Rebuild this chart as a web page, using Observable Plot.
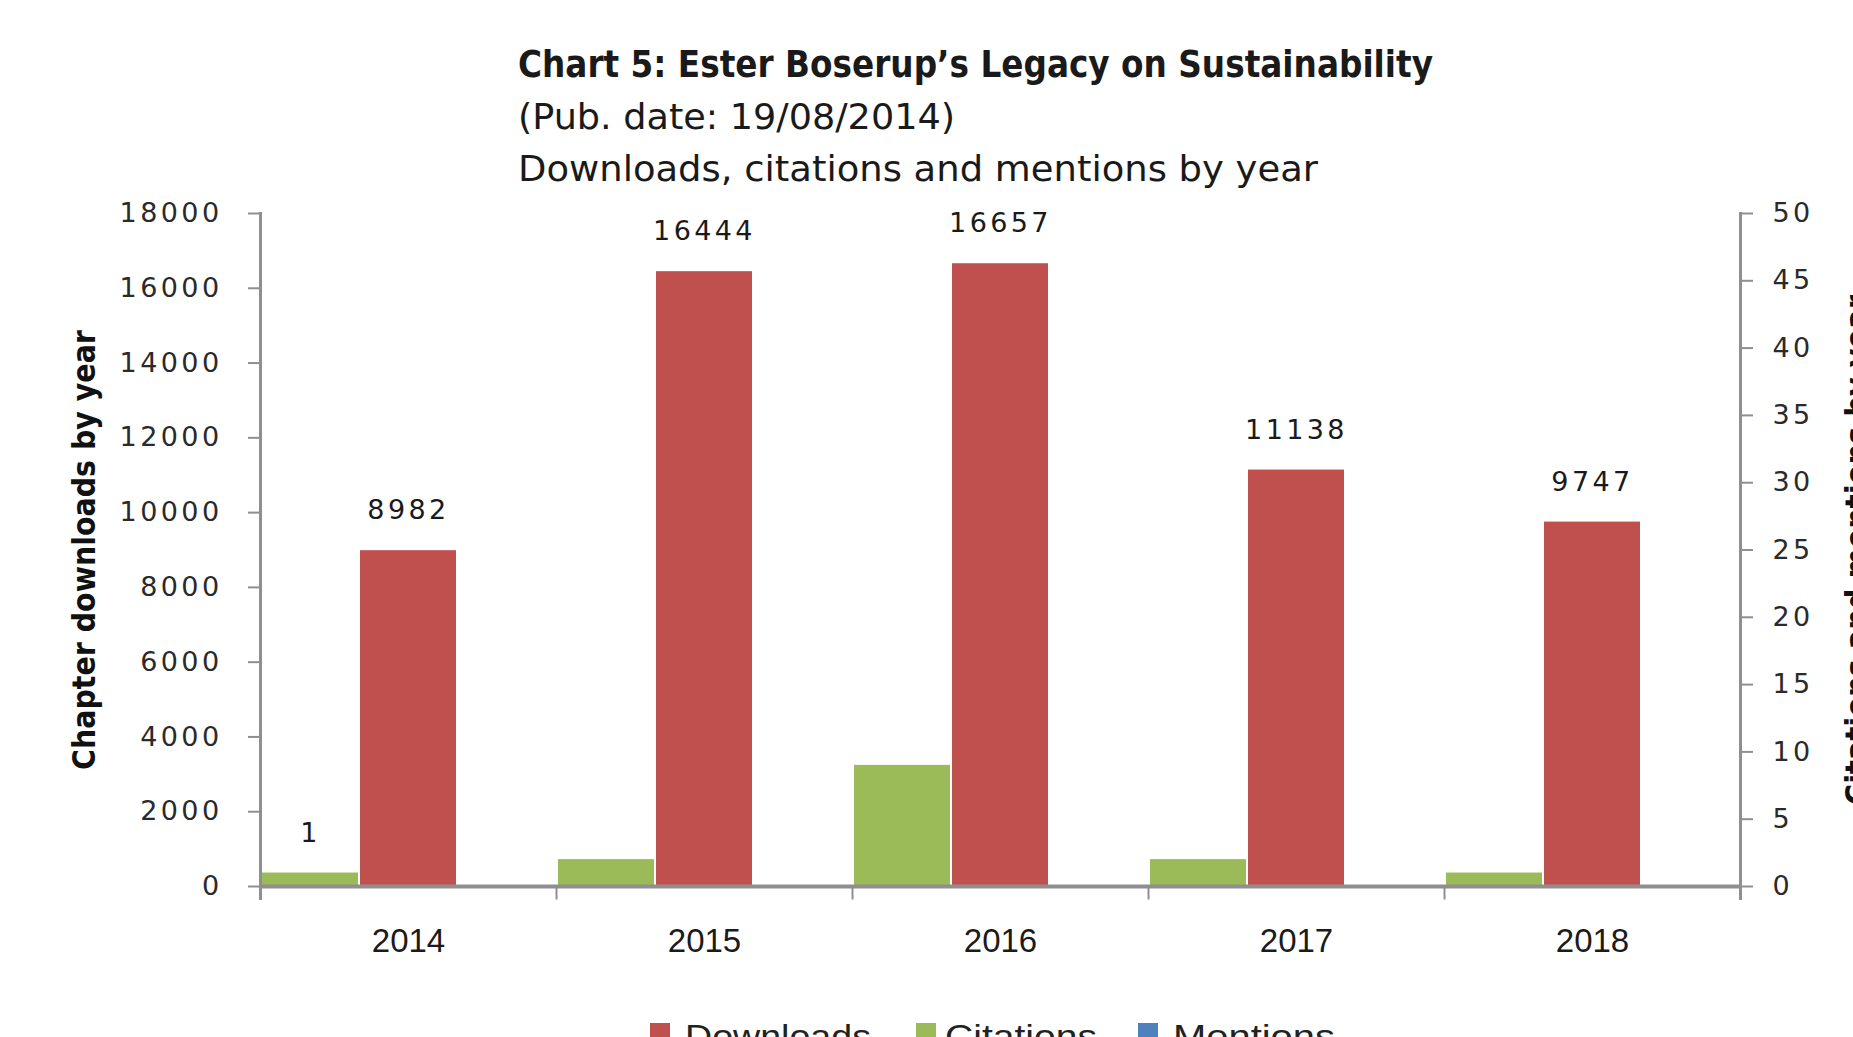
<!DOCTYPE html>
<html>
<head>
<meta charset="utf-8">
<script src="https://cdn.jsdelivr.net/npm/d3@7"></script>
<script src="https://cdn.jsdelivr.net/npm/@observablehq/plot@0.6"></script>
<style>
  html, body { margin: 0; padding: 0; background: #fff; }
  body { width: 1853px; height: 1037px; overflow: hidden; position: relative; }
  .hl { position: absolute; left: 518px; white-space: nowrap; color: #1a1a1a; transform-origin: 0 50%;
        font-family: "Liberation Sans Narrow", "DejaVu Sans Condensed", "Liberation Sans", sans-serif; line-height: 1; }
  #chart { position: absolute; left: 0; top: 190px; }
  .lg { position: absolute; top: 1019px; white-space: nowrap; font-family: "Liberation Sans", sans-serif;
        font-size: 34px; line-height: 1; color: #222; transform-origin: 0 0; }
  .sw { position: absolute; top: 1023px; width: 20px; height: 20px; }
</style>
</head>
<body>
<div id="t1" class="hl" style="top:45px;font-size:38px;font-weight:bold;">Chart 5: Ester Boserup’s Legacy on Sustainability</div>
<div id="t2" class="hl" style="top:99px;font-size:36px;">(Pub. date: 19/08/2014)</div>
<div id="t3" class="hl" style="top:151px;font-size:36px;">Downloads, citations and mentions by year</div>
<div id="chart"></div>
<div id="legend"></div>
<script>
// ---- data ----
const years = ["2014", "2015", "2016", "2017", "2018"];
const downloads = [8982, 16444, 16657, 11138, 9747];
const citations = [1, 2, 9, 2, 1];
const mentions = [0, 0, 0, 0, 0];
const seriesSlots = ["Citations", "Downloads", "Mentions"];
const legendOrder = ["Downloads", "Citations", "Mentions"];
const seriesColors = ["#9BBB59", "#C0504D", "#4F81BD"];
const leftTicks = [0, 2000, 4000, 6000, 8000, 10000, 12000, 14000, 16000, 18000];
const rightTicks = [0, 5, 10, 15, 20, 25, 30, 35, 40, 45, 50];
const leftMax = 18000, rightMax = 50;
const leftTitle = "Chapter downloads by year";
const rightTitle = "Citations and mentions by year";
const citationLabelYears = ["2014"];

// secondary axis mapped onto the primary scale
const k = leftMax / rightMax;
const rows = years.flatMap((yr, i) => [
  {year: yr, series: "Citations", value: citations[i], pos: citations[i] * k},
  {year: yr, series: "Downloads", value: downloads[i], pos: downloads[i]},
  {year: yr, series: "Mentions", value: mentions[i], pos: mentions[i] * k}
]);
const labelRows = rows.filter(d => d.series === "Downloads" ||
  (d.series === "Citations" && citationLabelYears.includes(d.year)));

const axisGray = "#8f8f8f";
const tickFont = "DejaVu Sans";
const titleFont = "Liberation Sans Narrow, DejaVu Sans Condensed, Liberation Sans";

const plot = Plot.plot({
  width: 1853,
  height: 820,
  marginTop: 23,
  marginBottom: 124,
  marginLeft: 258,
  marginRight: 112,
  style: {background: "#fff", overflow: "visible"},
  fx: {domain: years, padding: 0, axis: null},
  x: {domain: seriesSlots, padding: 0, axis: null},
  y: {domain: [0, leftMax], axis: null},
  color: {domain: seriesSlots, range: seriesColors},
  marks: [
    Plot.barY(rows, {fx: "year", x: "series", y: "pos", fill: "series", insetLeft: 1, insetRight: 1}),
    Plot.ruleY([0], {stroke: axisGray, strokeWidth: 4}),
    Plot.frame({anchor: "left", insetTop: 673, insetBottom: -12, stroke: axisGray, strokeWidth: 2}),
    Plot.frame({anchor: "left", facet: "super", insetBottom: -12, stroke: axisGray, strokeWidth: 3}),
    Plot.frame({anchor: "right", facet: "super", insetBottom: -12, stroke: axisGray, strokeWidth: 3}),
    Plot.axisY({anchor: "left", ticks: leftTicks, tickFormat: d => String(d), tickSize: 12, tickPadding: 26,
      fontSize: 27, fontFamily: tickFont, stroke: axisGray, strokeWidth: 2, fill: "#2a2a2a", label: null}),
    Plot.axisY({anchor: "right", ticks: rightTicks.map(v => v * k), tickFormat: d => String(Math.round(d / k)),
      tickSize: 12, tickPadding: 20, fontSize: 27, fontFamily: tickFont, stroke: axisGray, strokeWidth: 2,
      fill: "#2a2a2a", label: null}),
    Plot.axisFx({anchor: "bottom", tickSize: 0, tickPadding: 42, fontSize: 33, fontFamily: "Liberation Sans",
      fill: "#1a1a1a", label: null}),
    Plot.text(labelRows, {fx: "year", x: "series", y: "pos", text: d => String(d.value), dy: -40,
      fontSize: 27, fontFamily: tickFont, fill: "#1a1a1a"}),
    Plot.text([leftTitle], {facet: "super", frameAnchor: "left", textAnchor: "middle", rotate: -90, dx: -176,
      fontSize: 29, fontWeight: "bold", fontFamily: titleFont, fill: "#111"}),
    Plot.text([rightTitle], {facet: "super", frameAnchor: "right", textAnchor: "middle", rotate: -90, dx: 117,
      fontSize: 29, fontWeight: "bold", fontFamily: titleFont, fill: "#111"})
  ]
});
document.getElementById("chart").appendChild(plot);

// letter spacing on the Excel-like numeric labels
d3.select(plot).selectAll('g[aria-label="y-axis tick label"] text').style("letter-spacing", "3.4px");
d3.select(plot).selectAll('g[aria-label="text"] text').filter(function () { return /^\d+$/.test(this.textContent); })
  .style("letter-spacing", "3.4px");

// size the axis titles so their length matches the reference
d3.select(plot).selectAll('g[aria-label="text"] text').filter(function () {
  return this.textContent === leftTitle || this.textContent === rightTitle;
}).each(function () {
  const target = this.textContent === leftTitle ? 440 : 510;
  const len = this.getComputedTextLength();
  if (len > 0) this.setAttribute("font-size", (29 * target / len).toFixed(2));
});

// legend
const legend = document.getElementById("legend");
const legendPos = {Downloads: [650, 685, 186], Citations: [916, 945, 152], Mentions: [1138, 1173, 162]};
legendOrder.forEach(s => {
  const [sx, tx, tw] = legendPos[s];
  const sw = document.createElement("div");
  sw.className = "sw"; sw.style.left = sx + "px"; sw.style.background = seriesColors[seriesSlots.indexOf(s)];
  legend.appendChild(sw);
  const t = document.createElement("div");
  t.className = "lg"; t.style.left = tx + "px"; t.textContent = s; t.dataset.w = tw;
  legend.appendChild(t);
});

// fit header lines and legend labels to the reference widths
function fit(el, w) {
  const r = el.getBoundingClientRect().width;
  if (r > 0) el.style.transform = `scaleX(${w / r})`;
}
fit(document.getElementById("t1"), 915);
fit(document.getElementById("t2"), 437);
fit(document.getElementById("t3"), 800);
document.querySelectorAll(".lg").forEach(el => fit(el, +el.dataset.w));
</script>
</body>
</html>
